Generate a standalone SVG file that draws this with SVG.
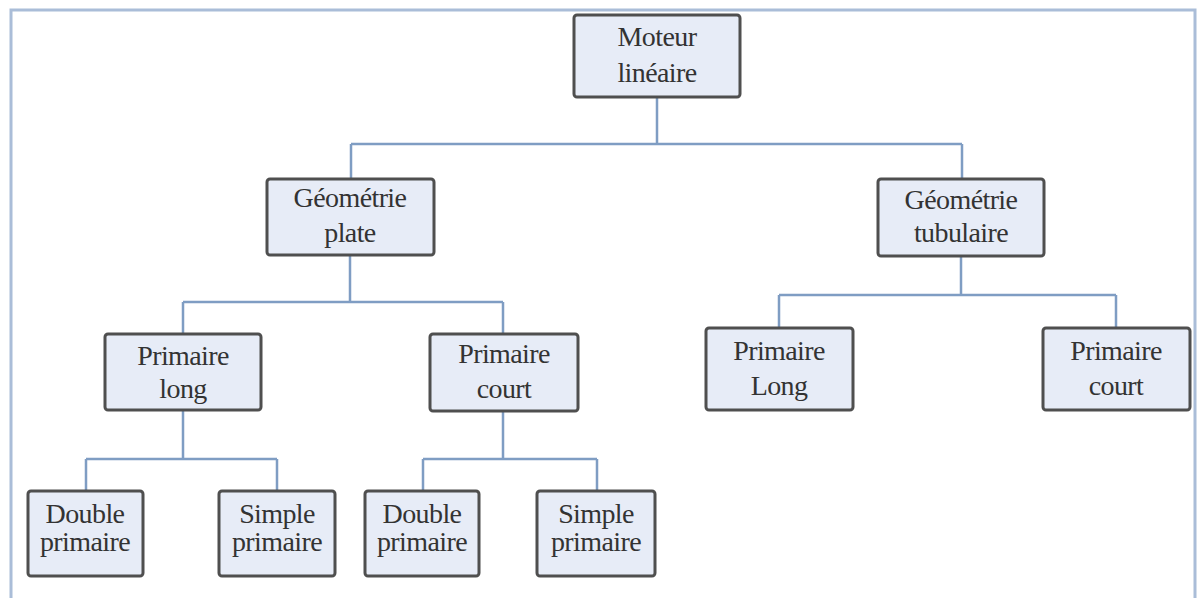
<svg xmlns="http://www.w3.org/2000/svg" width="1197" height="598" viewBox="0 0 1197 598">
<style>
.box{fill:#e7ecf7;stroke:#4f4f4f;stroke-width:3}
.lbl{font-family:"Liberation Serif","Times New Roman",serif;font-size:28px;letter-spacing:-0.6px;fill:#333333;text-anchor:middle}
.con{fill:none;stroke:#7f9dc3;stroke-width:2.5}
.frame{fill:none;stroke:#aabdd8;stroke-width:3}
</style>
<rect width="1197" height="598" fill="#ffffff"/>
<path class="frame" d="M11,598 V10 H1195 V598"/>
<g id="connectors">
<path class="con" d="M657,97 V144 M351,144 H962 M351,144 V179 M962,144 V179"/>
<path class="con" d="M350,255 V302 M183,302 H503 M183,302 V334 M503,302 V334"/>
<path class="con" d="M961,256 V295 M779,295 H1116 M779,295 V328 M1116,295 V328"/>
<path class="con" d="M183,410 V459 M86,459 H277 M86,459 V491 M277,459 V491"/>
<path class="con" d="M503,411 V459 M423,459 H597 M423,459 V491 M597,459 V491"/>
</g>
<g id="n-moteur"><rect class="box" x="574" y="15" width="166" height="82" rx="3"/><text class="lbl" x="657" y="46">Moteur</text><text class="lbl" x="657" y="82">linéaire</text></g>
<g id="n-geo-plate"><rect class="box" x="267" y="179" width="167" height="76" rx="3"/><text class="lbl" x="350" y="207">Géométrie</text><text class="lbl" x="350" y="242">plate</text></g>
<g id="n-geo-tub"><rect class="box" x="878" y="179" width="166" height="77" rx="3"/><text class="lbl" x="961" y="209">Géométrie</text><text class="lbl" x="961" y="242">tubulaire</text></g>
<g id="n-prim-long"><rect class="box" x="105" y="334" width="156" height="76" rx="3"/><text class="lbl" x="183" y="365">Primaire</text><text class="lbl" x="183" y="398">long</text></g>
<g id="n-prim-court"><rect class="box" x="430" y="334" width="148" height="77" rx="3"/><text class="lbl" x="504" y="363">Primaire</text><text class="lbl" x="504" y="398">court</text></g>
<g id="n-tub-long"><rect class="box" x="706" y="328" width="147" height="82" rx="3"/><text class="lbl" x="779" y="360">Primaire</text><text class="lbl" x="779" y="395">Long</text></g>
<g id="n-tub-court"><rect class="box" x="1043" y="328" width="147" height="82" rx="3"/><text class="lbl" x="1116" y="360">Primaire</text><text class="lbl" x="1116" y="395">court</text></g>
<g id="n-dbl-1"><rect class="box" x="28" y="491" width="115" height="85" rx="3"/><text class="lbl" x="85" y="523">Double</text><text class="lbl" x="85" y="551">primaire</text></g>
<g id="n-smp-1"><rect class="box" x="219" y="491" width="116" height="85" rx="3"/><text class="lbl" x="277" y="523">Simple</text><text class="lbl" x="277" y="551">primaire</text></g>
<g id="n-dbl-2"><rect class="box" x="365" y="491" width="114" height="85" rx="3"/><text class="lbl" x="422" y="523">Double</text><text class="lbl" x="422" y="551">primaire</text></g>
<g id="n-smp-2"><rect class="box" x="537" y="491" width="118" height="85" rx="3"/><text class="lbl" x="596" y="523">Simple</text><text class="lbl" x="596" y="551">primaire</text></g>
</svg>
